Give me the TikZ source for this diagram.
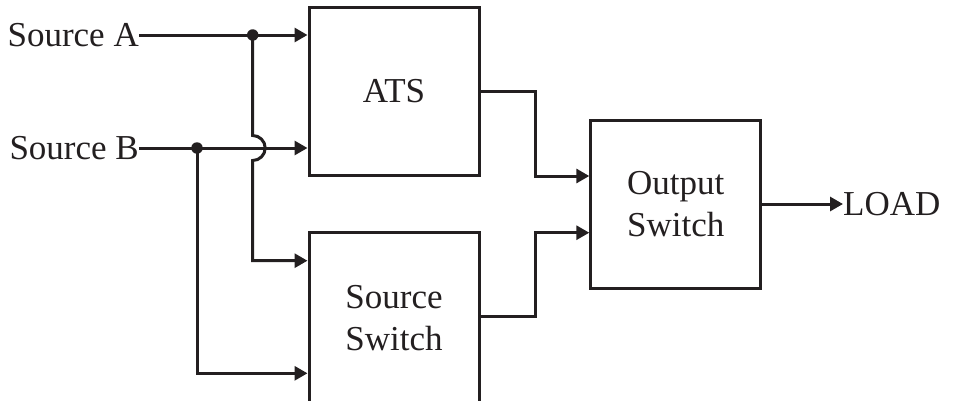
\documentclass[tikz,border=0pt]{standalone}
\usepackage{fontspec}
\setmainfont{Liberation Serif}
\usetikzlibrary{arrows.meta}
\definecolor{ink}{RGB}{35,31,32}
\tikzset{
  blk/.style={draw=ink, line width=3pt, minimum width=170pt, minimum height=168pt, inner sep=0pt, align=center, text=ink, font=\fontsize{35}{41.5}\selectfont},
  lbl/.style={inner sep=0pt, text=ink, font=\fontsize{35}{41.5}\selectfont},
  wire/.style={draw=ink, line width=3pt},
  arr/.style={wire, -{Triangle[length=13pt,width=14pt]}},
  jdot/.style={circle, fill=ink, inner sep=0pt, minimum size=11.5pt}
}
\begin{document}
\begin{tikzpicture}[x=1pt,y=-1pt]
\useasboundingbox (0,0) rectangle (956,400);
\begin{scope}
\clip (0,0) rectangle (956,400);
% blocks
\node[blk] (ats) at (394,91) {ATS};
\node[blk, minimum height=171pt] (ssw) at (394,318.2) {Source\\Switch};
\node[blk] (osw) at (675.8,204.2) {Output\\Switch};
% labels
\node[lbl, anchor=east] (srcA) at (139,35) {Source A};
\node[lbl, anchor=east] (srcB) at (139,148) {Source B};
\node[lbl, anchor=west] (load) at (843,204) {LOAD};
% junctions
\node[jdot] (dA) at (252.7,35) {};
\node[jdot] (dB) at (197,148) {};
\coordinate (jA) at (252.7,135.5);
\coordinate (cA) at (252.7,260.7);
\coordinate (cB) at (197,373.3);
\coordinate (o1) at (535,91.7);
\coordinate (o2) at (535,176);
\coordinate (s1) at (535,316.7);
\coordinate (s2) at (535,232.7);
% wires
\draw[arr] (srcA.east) -- (ats.west |- dA.center);
\draw[arr] (srcB.east) -- (ats.west |- dB.center);
\draw[arr] (dA.center) -- (jA) arc[start angle=90, end angle=-90, radius=12.5pt] -- (cA) -- (ssw.west |- cA);
\draw[arr] (dB.center) -- (cB) -- (ssw.west |- cB);
\draw[arr] (ats.east |- o1) -- (o1) -- (o2) -- (osw.west |- o2);
\draw[arr] (ssw.east |- s1) -- (s1) -- (s2) -- (osw.west |- s2);
\draw[arr] (osw.east |- load.west) -- (load.west);
\end{scope}
\end{tikzpicture}
\end{document}
